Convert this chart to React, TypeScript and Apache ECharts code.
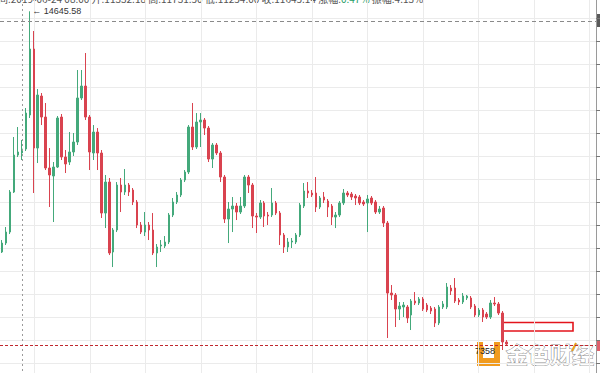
import React, { useEffect, useRef } from "react";
import * as echarts from "echarts";

// [open, close, low, high]
const ohlc: number[][] = [
  [9413, 9608, 9391, 9673], [9608, 9847, 9565, 9956], [9847, 10717, 9804, 10760], [10717, 11521, 10695, 11913],
  [11521, 11587, 11478, 12130], [11565, 11652, 11413, 11847], [11652, 12434, 11608, 12543], [12391, 13826, 12326, 14645.58],
  [13826, 11673, 10695, 14217], [11673, 12826, 11347, 12956], [12804, 12347, 12173, 12869], [12347, 11239, 11195, 12652],
  [11239, 11087, 10391, 11673], [11065, 11260, 10065, 11369], [11260, 12326, 11239, 12369], [12347, 11478, 11413, 12413],
  [11478, 11326, 11130, 11630], [11369, 11587, 11304, 12021], [11587, 11804, 11500, 12000], [11804, 12761, 11739, 13369],
  [12761, 13021, 12717, 13369], [13021, 12347, 12282, 13739], [12347, 11587, 11195, 12391], [11565, 12021, 11413, 12173],
  [12021, 11565, 11195, 12108], [11565, 10260, 10152, 11630], [10260, 10934, 9934, 11087], [10934, 9391, 9347, 11021],
  [9413, 9891, 9086, 9934], [9891, 10869, 9847, 10934], [10869, 10717, 10282, 11021], [10717, 10869, 10652, 11217],
  [10869, 10717, 10630, 10913], [10760, 10500, 10434, 10804], [10500, 10000, 9934, 10543], [10000, 9847, 9804, 10065],
  [9847, 10000, 9760, 10282], [10000, 9891, 9673, 10065], [9891, 9391, 9347, 10260], [9391, 9521, 9086, 9586],
  [9543, 9565, 9413, 9673], [9543, 9630, 9500, 9760], [9630, 10217, 9586, 10260], [10217, 10500, 10173, 10587],
  [10500, 10652, 10456, 10717], [10652, 10978, 10608, 11021], [10978, 11152, 10934, 11195], [11152, 12130, 11108, 12173],
  [12130, 11695, 11630, 12652], [11695, 12239, 11652, 12434], [12239, 12282, 11695, 12434], [12282, 12108, 11956, 12326],
  [12108, 11434, 11369, 12152], [11434, 11739, 11239, 11782], [11739, 11565, 11521, 11782], [11565, 11043, 10934, 11608],
  [11043, 10130, 10043, 11087], [10130, 10347, 9608, 10500], [10347, 10413, 9847, 10608], [10413, 10282, 10108, 10478],
  [10282, 10413, 10239, 10608], [10413, 11043, 10369, 11087], [11043, 10869, 10695, 11087], [10869, 10195, 9934, 10913],
  [10195, 10173, 9826, 10260], [10173, 10478, 10130, 10543], [10478, 10195, 9956, 10521], [10217, 10195, 10000, 10282],
  [10217, 10478, 10173, 10804], [10478, 10260, 10217, 10521], [10260, 9782, 9565, 10304], [9782, 9521, 9391, 9826],
  [9521, 9630, 9413, 9717], [9630, 9652, 9500, 9717], [9630, 9782, 9586, 9826], [9782, 10434, 9739, 10478],
  [10413, 10739, 10369, 10913], [10739, 10695, 10587, 10934], [10695, 10652, 10608, 10760], [10695, 10391, 10282, 11043],
  [10391, 10587, 10347, 10630], [10608, 10543, 10478, 10717], [10521, 10391, 10173, 10565], [10413, 10173, 10000, 10456],
  [10173, 10217, 9934, 10282], [10217, 10478, 10173, 10521], [10478, 10695, 10434, 10782], [10695, 10652, 10608, 10739],
  [10673, 10608, 10543, 10717], [10630, 10587, 10434, 10673], [10608, 10478, 10434, 10652], [10500, 10456, 10413, 10543],
  [10478, 10565, 9847, 10652], [10587, 10478, 10434, 10630], [10500, 10282, 10239, 10543], [10282, 10347, 10239, 10413],
  [10369, 10043, 9956, 10413], [10043, 8521, 7543, 10087], [8521, 8478, 8369, 8695], [8478, 8173, 7782, 8521],
  [8173, 8239, 7934, 8326], [8217, 8260, 7999, 8326], [8217, 7978, 7869, 8260], [8043, 8347, 7717, 8391],
  [8347, 8304, 8260, 8543], [8304, 8391, 8260, 8434], [8391, 8173, 8130, 8434], [8260, 8152, 8108, 8304],
  [8195, 8130, 8065, 8239], [8173, 7869, 7782, 8217], [7869, 8217, 7825, 8260], [8217, 8282, 8173, 8347],
  [8217, 8652, 8173, 8739], [8630, 8565, 8478, 8695], [8630, 8347, 8304, 8847], [8369, 8326, 8260, 8413],
  [8326, 8456, 8282, 8521], [8413, 8456, 8369, 8478], [8413, 8217, 8173, 8456], [8239, 8043, 7999, 8282],
  [8043, 8152, 7999, 8195], [8152, 7999, 7891, 8195], [8065, 7999, 7956, 8108], [7999, 8304, 7956, 8369],
  [8304, 8282, 8239, 8434], [8282, 8086, 8043, 8326], [8086, 7456, 7282, 8130], [7456, 7412, 7369, 7499],
];

const totalSlots = 150;
const highMarkIndex = 7;
const highMarkValue = 14645.58;
const crossIndex = 5;
const crossPrice = 14435;
const lastPrice = 7391;
const lastPriceLabel = "7358";
const yMin = 6500;
const yMax = 15000;
const yStep = 500;
const headerParts = [
  { t: "时间:2019-06-24 08:00 开:11332.18 高:11731.50 低:11254.00 收:11645.14 涨幅:", s: "a" },
  { t: "0.47%", s: "g" },
  { t: " 振幅:4.13%", s: "a" },
];
const watermarkText = "金色财经";

const UP = "#44a97b";
const DOWN = "#d9434f";

// the chart box is larger than the 600x373 window and shifted so that
// the 500-step price grid and the time grid land where the screenshot has them
const OX = 21;
const OY = 5;
const W = 621;
const H = 391;

export default function App() {
  const ref = useRef<HTMLDivElement>(null);
  useEffect(() => {
    const chart = echarts.init(ref.current!, null, { renderer: "svg" });
    const categories = Array.from({ length: totalSlots }, (_, i) => "K" + (i + 1));
    const px = (x: number) => x + OX;
    const py = (y: number) => y + OY;
    chart.setOption({
      animation: false,
      backgroundColor: "#ffffff",
      grid: [
        { left: OX, right: 4, top: 0, bottom: 0 },
        { left: 0, right: 4, top: OY, bottom: H - OY - 373 },
      ],
      xAxis: [
        {
          type: "category", gridIndex: 0, data: categories, boundaryGap: true,
          axisLine: { show: false }, axisTick: { show: false }, axisLabel: { show: false },
          splitLine: { show: false },
        },
        {
          type: "value", gridIndex: 1, min: 0, max: (W - 4) / 55.5, interval: 1,
          axisLine: { show: false }, axisTick: { show: false }, axisLabel: { show: false },
          splitLine: { show: true, lineStyle: { color: "#ebebeb", width: 1 } },
        },
      ],
      yAxis: [
        {
          type: "value", gridIndex: 0, position: "right", min: yMin, max: yMax, interval: yStep,
          axisLine: { show: true, lineStyle: { color: "#9a9a9a" } },
          axisTick: { show: true, length: 4, lineStyle: { color: "#777" } },
          axisLabel: { show: false },
          splitLine: { show: true, lineStyle: { color: "#ebebeb", width: 1 } },
        },
        { type: "value", gridIndex: 1, show: false, min: 0, max: 1 },
      ],
      series: [
        {
          type: "candlestick", xAxisIndex: 0, yAxisIndex: 0,
          data: ohlc,
          barWidth: 2,
          itemStyle: { color: UP, color0: DOWN, borderColor: UP, borderColor0: DOWN, borderWidth: 1 },
          markLine: {
            silent: true, symbol: ["none", "none"], label: { show: false },
            data: [
              { yAxis: crossPrice, lineStyle: { color: "#8a8a8a", type: [4, 3], width: 1 } },
              { xAxis: categories[crossIndex], lineStyle: { color: "#9a9a9a", type: [2, 3], width: 1 } },
              { yAxis: lastPrice, lineStyle: { color: "#c0282e", type: [3, 2], width: 1 } },
            ],
          },
          markPoint: {
            silent: true,
            symbol: "circle", symbolSize: 1,
            itemStyle: { color: "rgba(0,0,0,0)" },
            label: {
              show: true, position: "right", distance: 2,
              formatter: "← " + highMarkValue.toFixed(2),
              color: "#333", fontSize: 9, fontFamily: "Liberation Sans",
            },
            data: [{ coord: [categories[highMarkIndex], highMarkValue] }],
          },
        },
      ],
      graphic: [
        {
          type: "text", x: px(-12), y: py(-1.5), silent: true,
          style: {
            text: headerParts.map((p) => "{" + p.s + "|" + p.t + "}").join(""),
            verticalAlign: "middle",
            rich: {
              a: { fill: "#555", fontSize: 10, fontFamily: "Noto Sans CJK SC" },
              g: { fill: "#2aa06a", fontSize: 10, fontFamily: "Noto Sans CJK SC" },
            },
          },
        },
        { type: "rect", shape: { x: px(596), y: py(14), width: 6, height: 13 }, style: { fill: "#5a5a5a" }, silent: true },
        { type: "rect", shape: { x: px(596), y: py(340), width: 6, height: 11 }, style: { fill: "#e0606c" }, silent: true },
        {
          type: "rect", shape: { x: px(502), y: py(322.5), width: 71, height: 8.5 },
          style: { fill: "none", stroke: "#e3141c", lineWidth: 1.6 }, silent: true,
        },
        {
          type: "polygon", silent: true,
          shape: { points: [[px(477), py(342)], [px(483), py(342)], [px(483), py(358)], [px(494), py(358)], [px(494), py(342)], [px(500), py(342)], [px(500), py(366)], [px(477), py(366)]] },
          style: { fill: "#f19b1e" },
        },
        { type: "circle", shape: { cx: px(481), cy: py(349), r: 3.5 }, style: { fill: "#f19b1e" }, silent: true },
        {
          type: "text", x: px(475), y: py(351), silent: true,
          style: { text: lastPriceLabel, fill: "#222", fontSize: 9, fontFamily: "Liberation Sans", verticalAlign: "middle" },
        },
        {
          type: "text", x: px(506), y: py(342), silent: true,
          style: {
            text: watermarkText, fill: "#ffffff", stroke: "#8f8f8f", lineWidth: 1,
            fontSize: 22, fontWeight: "bold", fontFamily: "Noto Sans CJK SC",
          },
        },
        { type: "line", shape: { x1: px(572), y1: py(351), x2: px(576), y2: py(343) }, style: { stroke: "#e9a21c", lineWidth: 2 }, silent: true },
      ],
    });
    return () => chart.dispose();
  }, []);
  return <div ref={ref} style={{ position: "fixed", left: -OX, top: -OY, width: W, height: H }} />;
}
